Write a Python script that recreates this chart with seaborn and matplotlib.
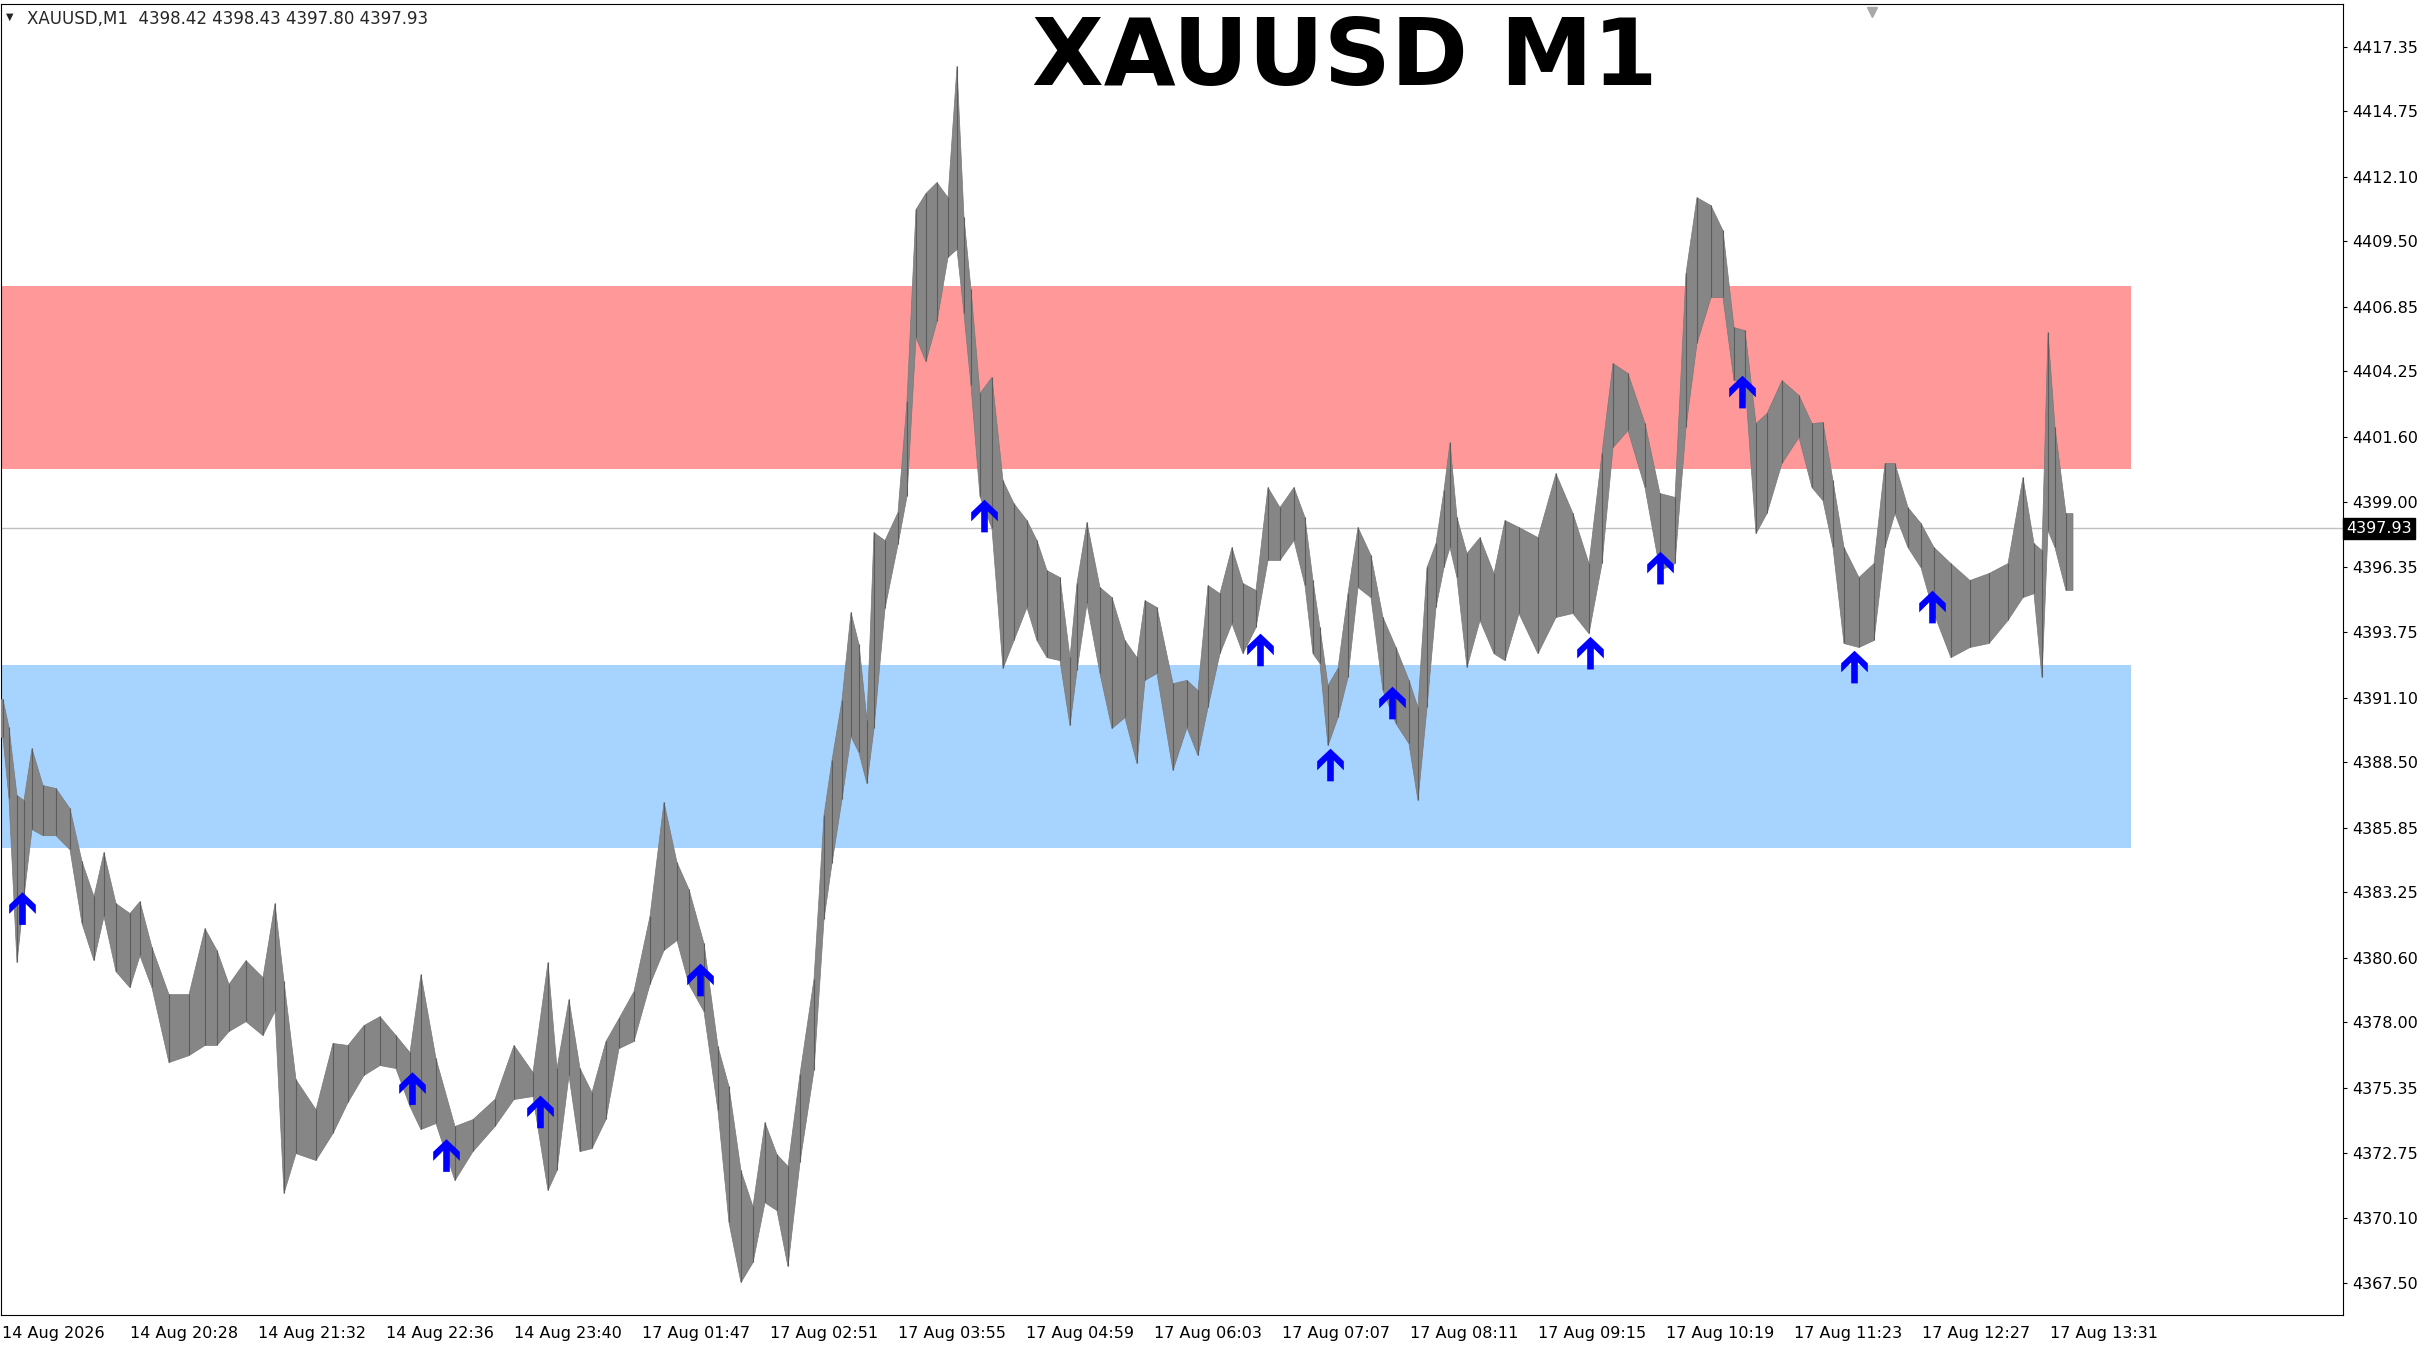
import matplotlib
matplotlib.use("Agg")
import matplotlib.pyplot as plt
from matplotlib.path import Path
from matplotlib.markers import MarkerStyle
import seaborn as sns
import numpy as np
import pandas as pd

# M1 bars, a few bars per group (x = bar index from the left edge)
bar_start = [0, 2, 6, 10, 13, 18, 24, 31, 38, 43, 50, 53, 62, 67, 72, 79, 89, 99, 105, 111,
             117, 128, 134, 140, 143, 152, 163, 169, 178, 185, 194, 201, 208, 212, 223, 231, 241, 253, 260, 272,
             275, 281, 287, 292, 299, 306, 312, 321, 328, 335, 341,
             347, 356, 361, 367, 373, 379, 385, 391, 396, 403, 410, 413, 418, 423, 427, 431, 435, 438, 446,
             451, 455, 460, 465, 471, 476, 480, 483, 487, 492, 499,
             503, 510, 516, 520, 526, 533, 536, 540, 546, 553, 558, 566, 570, 574, 582, 590, 596, 601, 606,
             613, 618, 624, 631, 636, 643, 650, 654, 658, 661, 666, 671, 676, 681, 689, 693, 702, 706, 711,
             715, 720, 723, 726, 730, 736, 743,
             750, 754, 764, 773, 782, 790, 798, 803, 809, 818, 826, 833, 841, 844, 852, 858, 864, 869, 875,
             880, 886, 895, 903, 908, 914, 918, 925, 933, 940, 944, 950, 957, 963, 970, 980, 989, 999, 1008,
             1014, 1019, 1022, 1025, 1029]
bar_high = [4391.04, 4389.91, 4387.17, 4386.97, 4389.06, 4387.57, 4387.45, 4386.64, 4384.51, 4383.09,
            4384.87, 4382.81, 4382.41, 4382.89, 4381.04, 4379.14, 4379.14, 4381.80, 4380.92, 4379.55,
            4380.51, 4379.83, 4382.81, 4379.67, 4375.71, 4374.50, 4377.17, 4377.09, 4377.89, 4378.25,
            4377.49, 4376.80, 4379.95, 4376.56, 4373.82, 4374.10, 4374.91, 4377.09, 4376.00, 4380.43,
            4376.16, 4378.94, 4376.16, 4375.19, 4377.25, 4378.17, 4379.26, 4382.29, 4386.89, 4384.47,
            4383.38,
            4381.20, 4377.04, 4375.43, 4372.04, 4370.59, 4373.98, 4372.69, 4372.21, 4375.92, 4379.75,
            4386.36, 4388.58, 4391.00, 4394.55, 4393.26, 4390.19, 4397.77, 4397.45, 4398.58, 4403.06,
            4410.80, 4411.45, 4411.89, 4411.28, 4416.57, 4410.48, 4407.57, 4403.38, 4404.03, 4399.87,
            4398.94, 4398.26, 4397.45, 4396.24, 4395.96, 4392.73, 4395.72, 4398.18, 4395.56, 4395.15,
            4393.42, 4392.73, 4395.03, 4394.75, 4391.68, 4391.81, 4391.40, 4395.64, 4395.31, 4397.17,
            4395.72, 4395.44, 4399.59, 4398.78, 4399.59, 4398.38, 4395.84, 4393.94, 4391.60, 4392.29,
            4395.31, 4397.98, 4396.85, 4394.35, 4393.14, 4391.81, 4390.72, 4396.36, 4397.33, 4399.47,
            4401.40, 4398.38, 4396.93, 4397.57, 4396.12,
            4398.26, 4397.98, 4397.57, 4400.15, 4398.54, 4396.52, 4400.96, 4404.59, 4404.19, 4402.17,
            4399.35, 4399.19, 4408.22, 4411.28, 4410.96, 4409.95, 4406.04, 4405.92, 4402.17, 4402.57,
            4403.90, 4403.30, 4402.17, 4402.21, 4399.87, 4397.17, 4395.96, 4396.52, 4400.56, 4400.56,
            4398.78, 4398.14, 4397.17, 4396.52, 4395.84, 4396.12, 4396.52, 4399.99, 4397.33, 4397.05,
            4405.84, 4402.01, 4398.54]
bar_low = [4389.51, 4387.05, 4380.43, 4383.09, 4385.80, 4385.55, 4385.55, 4384.99, 4382.01, 4380.51,
           4382.29, 4380.07, 4379.42, 4380.71, 4379.42, 4376.40, 4376.68, 4377.09, 4377.09, 4377.65,
           4378.05, 4377.49, 4378.46, 4371.12, 4372.73, 4372.45, 4373.54, 4374.79, 4375.88, 4376.28,
           4376.16, 4374.63, 4373.70, 4373.94, 4371.64, 4372.81, 4373.82, 4374.91, 4375.03, 4371.24,
           4372.04, 4375.88, 4372.81, 4372.93, 4374.10, 4376.96, 4377.25, 4379.55, 4380.92, 4381.32,
           4379.55,
           4378.46, 4374.46, 4369.95, 4367.53, 4368.33, 4370.75, 4370.43, 4368.17, 4372.37, 4376.08,
           4382.17, 4384.43, 4387.01, 4389.55, 4388.90, 4387.65, 4389.87, 4394.71, 4397.29, 4399.23,
           4405.64, 4404.67, 4406.28, 4408.87, 4409.19, 4406.61, 4403.70, 4399.23, 4397.94, 4392.29,
           4393.42, 4394.75, 4393.42, 4392.73, 4392.61, 4389.99, 4392.21, 4394.91, 4392.09, 4389.87,
           4390.31, 4388.46, 4391.81, 4392.09, 4388.18, 4389.91, 4388.78, 4390.72, 4392.89, 4394.10,
           4392.89, 4393.94, 4396.65, 4396.65, 4397.45, 4395.64, 4392.89, 4392.49, 4389.18, 4390.31,
           4391.93, 4395.56, 4395.15, 4391.40, 4390.07, 4389.26, 4386.97, 4390.72, 4394.75, 4396.36,
           4397.17, 4395.96, 4392.33, 4394.23, 4392.89,
           4392.61, 4394.51, 4392.89, 4394.35, 4394.51, 4393.70, 4396.52, 4401.20, 4401.89, 4399.59,
           4396.24, 4396.52, 4402.01, 4405.40, 4407.25, 4407.25, 4403.90, 4403.90, 4397.73, 4398.54,
           4400.56, 4401.61, 4399.59, 4399.06, 4397.17, 4393.30, 4393.14, 4393.42, 4397.17, 4398.54,
           4397.17, 4396.36, 4394.51, 4392.73, 4393.14, 4393.30, 4394.23, 4395.15, 4395.31, 4391.93,
           4397.86, 4397.17, 4395.44]
last_bar = 1036

# signal arrows
arrow_bar = [11, 206, 223, 270, 350, 492, 630, 665, 696, 795, 830, 871, 927, 966]
arrow_price = [4382.59, 4375.33, 4372.63, 4374.39, 4379.71, 4398.42, 4393.02, 4388.38,
               4390.88, 4392.89, 4396.32, 4403.42, 4392.33, 4394.75]

# zones
supply_zone = (4400.31, 4407.70)
demand_zone = (4385.03, 4392.42)
zone_end_bar = 1065

price_ticks = [4417.35, 4414.75, 4412.10, 4409.50, 4406.85, 4404.25, 4401.60, 4399.00, 4396.35, 4393.75,
               4391.10, 4388.50, 4385.85, 4383.25, 4380.60, 4378.00, 4375.35, 4372.75, 4370.10, 4367.50]
time_labels = ["14 Aug 2026", "14 Aug 20:28", "14 Aug 21:32", "14 Aug 22:36", "14 Aug 23:40",
               "17 Aug 01:47", "17 Aug 02:51", "17 Aug 03:55", "17 Aug 04:59", "17 Aug 06:03",
               "17 Aug 07:07", "17 Aug 08:11", "17 Aug 09:15", "17 Aug 10:19", "17 Aug 11:23",
               "17 Aug 12:27", "17 Aug 13:31"]
time_ticks = [1] + [65 + 64 * i for i in range(16)]
last_price = 4397.93
header = "XAUUSD,M1  4398.42 4398.43 4397.80 4397.93"
title = "XAUUSD M1"

sns.set_style("white")
plt.rcParams['font.family'] = ['DejaVu Sans']

bars = pd.DataFrame({"start": bar_start, "high": bar_high, "low": bar_low})
bars["width"] = np.diff(np.append(bars["start"].values, last_bar))
bars["mid"] = bars["start"] + bars["width"] / 2

fig = plt.figure(figsize=(24.35, 13.48), dpi=100)
ax = fig.add_axes([0.5 / 2435, 33 / 1348, 2342.5 / 2435, 1311 / 1348])

ax.fill_between([0, zone_end_bar], supply_zone[0], supply_zone[1], color="#FF9898", lw=0, zorder=1)
ax.fill_between([0, zone_end_bar], demand_zone[0], demand_zone[1], color="#A6D3FF", lw=0, zorder=1)
ax.axhline(last_price, color="#c0c0c0", lw=1, zorder=2)

# price ribbon through the bar groups, with a thin stroke at each group
xs = np.concatenate([[bars["start"].iloc[0]], bars["mid"], [last_bar]])
hs = np.concatenate([[bars["high"].iloc[0]], bars["high"], [bars["high"].iloc[-1]]])
ls = np.concatenate([[bars["low"].iloc[0]], bars["low"], [bars["low"].iloc[-1]]])
ax.fill_between(xs, ls, hs, color="#868686", lw=0.5, edgecolor="#787878", zorder=3)
ax.vlines(bars["mid"], bars["low"], bars["high"], color="#5c5c5c", lw=0.8, zorder=3)

arrow_verts = [(0, 16.3), (13.3, 3.7), (13.3, -5.3), (3.3, 4.7), (3.3, -16.3),
               (-3.3, -16.3), (-3.3, 4.7), (-13.3, -5.3), (-13.3, 3.7), (0, 16.3)]
arrow_marker = MarkerStyle(Path(arrow_verts, closed=True))
sns.scatterplot(x=arrow_bar, y=arrow_price, marker=arrow_marker, s=552, color="#0000FF",
                edgecolor="none", linewidth=0, ax=ax, zorder=5, legend=False)

ax.set_xlim(0, 1171.25)
ax.set_ylim(4366.20, 4419.07)

ax.yaxis.tick_right()
ax.set_yticks(price_ticks, labels=[f"{v:.2f}" for v in price_ticks])
ax.set_xticks(time_ticks, labels=time_labels)
for lab in ax.get_xticklabels():
    lab.set_ha("left")
ax.tick_params(axis="both", direction="out", length=3, width=0.8, color="black",
               labelsize=11.5, labelcolor="black")
ax.tick_params(axis="x", pad=5)
ax.tick_params(axis="y", pad=4)
ax.set_xlabel("")
ax.set_ylabel("")
for sp in ax.spines.values():
    sp.set_visible(True)
    sp.set_color("black")
    sp.set_linewidth(0.8)

# current price tag
ax.annotate(f"{last_price:.2f}", xy=(1.0, last_price), xycoords=("axes fraction", "data"),
            xytext=(2, 0), textcoords="offset points", ha="left", va="center",
            fontsize=11.5, color="white",
            bbox=dict(boxstyle="square,pad=0.2", fc="black", ec="black"), annotation_clip=False)

# small chart shift marker
ax.plot([935.5], [0.994], marker="v", ms=7, color="#a8a8a8", transform=ax.get_xaxis_transform(),
        clip_on=False, zorder=6)

fig.text(10 / 2435, 1 - 17 / 1348, "\u25BC", fontsize=7, ha="center", va="center")
fig.text(27 / 2435, 1 - 19 / 1348, header, fontsize=12, ha="left", va="center")
fig.text(1345 / 2435, 1 - 85 / 1348, title, fontsize=67, fontweight="bold",
         ha="center", va="baseline", color="black")

fig.savefig("out.png", dpi=100)
